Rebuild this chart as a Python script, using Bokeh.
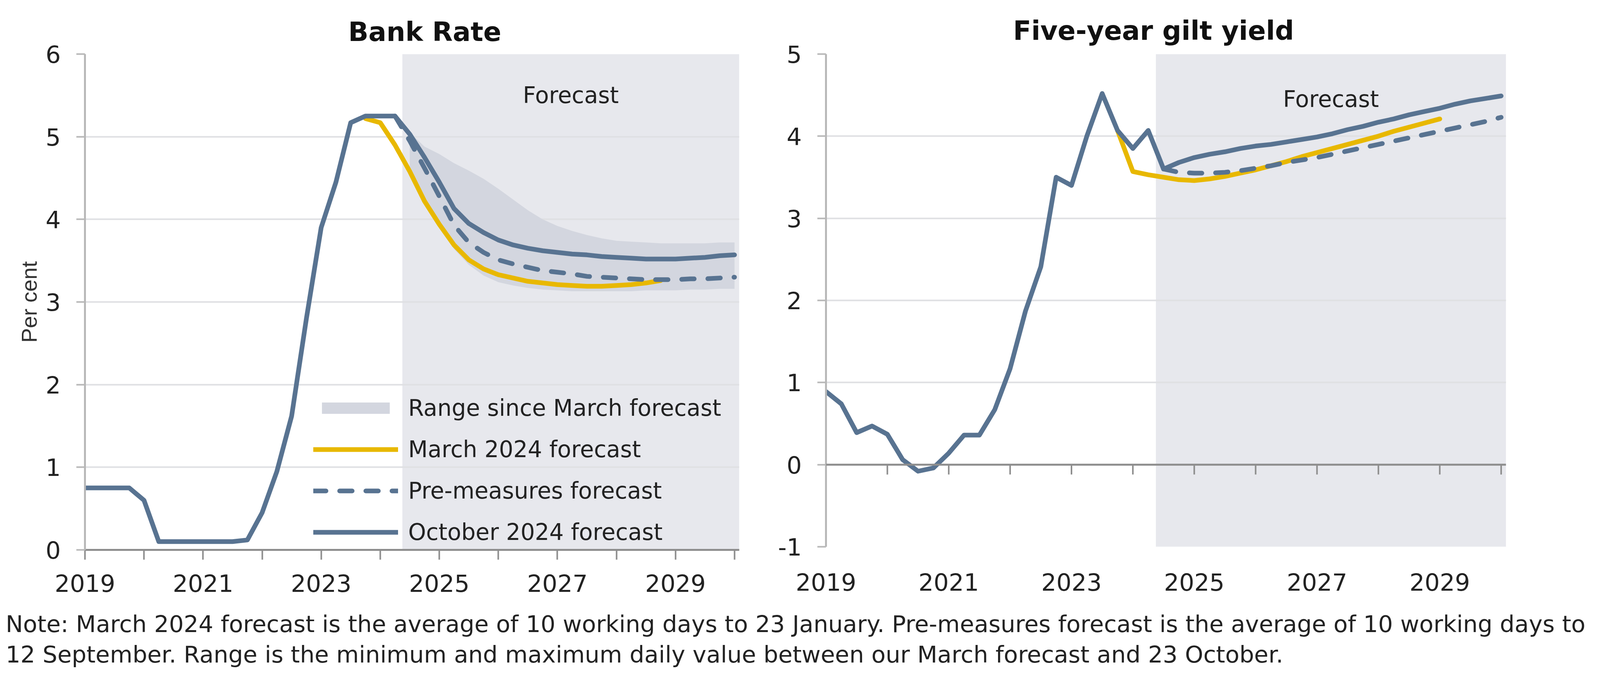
from bokeh.plotting import figure
from bokeh.models import (Range1d, FixedTicker, BoxAnnotation, Span, Legend,
                          LegendItem, Label)
from bokeh.layouts import row, column
from bokeh.embed import file_html
from bokeh.resources import INLINE

# ---------------- data ----------------
quarters = [f"{y}Q{q}" for y in range(2019, 2031) for q in range(1, 5)][:45]

# Bank Rate (per cent)
bank_oct = [0.75, 0.75, 0.75, 0.75,
            0.60, 0.10, 0.10, 0.10,
            0.10, 0.10, 0.10, 0.12,
            0.45, 0.95, 1.62, 2.80,
            3.90, 4.45, 5.17, 5.25,
            5.25, 5.25, 5.03, 4.75,
            4.45, 4.13, 3.95, 3.84,
            3.75, 3.69, 3.65, 3.62,
            3.60, 3.58, 3.57, 3.55,
            3.54, 3.53, 3.52, 3.52,
            3.52, 3.53, 3.54, 3.56,
            3.57]
bank_march_start = "2023Q4"
bank_march = [5.22, 5.17, 4.90, 4.58, 4.22, 3.94, 3.69, 3.51, 3.40, 3.33, 3.29,
              3.25, 3.23, 3.21, 3.20, 3.19, 3.19, 3.20, 3.21, 3.23, 3.26]
bank_pre_start = "2024Q2"
bank_pre = [5.25, 4.95, 4.62, 4.28, 3.93, 3.72, 3.60, 3.51, 3.46, 3.42, 3.38, 3.36,
            3.34, 3.31, 3.30, 3.29, 3.28, 3.27, 3.27, 3.27, 3.28, 3.28, 3.29, 3.30]
bank_range_start = "2024Q3"
bank_range_high = [5.05, 4.88, 4.79, 4.68, 4.59, 4.49, 4.37, 4.24, 4.11, 4.00, 3.92, 3.86,
                   3.81, 3.77, 3.74, 3.73, 3.72, 3.71, 3.71, 3.71, 3.71, 3.72, 3.72]
bank_range_low = [4.55, 4.20, 3.90, 3.64, 3.45, 3.32, 3.24, 3.20, 3.17, 3.15, 3.14, 3.13,
                  3.13, 3.13, 3.13, 3.13, 3.14, 3.14, 3.14, 3.15, 3.15, 3.16, 3.16]

# Five-year gilt yield (per cent)
gilt_oct = [0.89, 0.74, 0.39, 0.47,
            0.37, 0.06, -0.08, -0.04,
            0.14, 0.36, 0.36, 0.67,
            1.17, 1.87, 2.41, 3.50,
            3.40, 4.00, 4.52, 4.07,
            3.85, 4.07, 3.60, 3.68,
            3.74, 3.78, 3.81, 3.85,
            3.88, 3.90, 3.93, 3.96,
            3.99, 4.03, 4.08, 4.12,
            4.17, 4.21, 4.26, 4.30,
            4.34, 4.39, 4.43, 4.46,
            4.49]
gilt_march_start = "2023Q4"
gilt_march = [4.07, 3.57, 3.53, 3.50, 3.47, 3.46, 3.48, 3.51, 3.55, 3.59, 3.64,
              3.69, 3.75, 3.80, 3.85, 3.90, 3.95, 4.00, 4.06, 4.11, 4.16, 4.21]
gilt_pre_start = "2024Q3"
gilt_pre = [3.60, 3.56, 3.55, 3.55, 3.56, 3.58, 3.61, 3.64, 3.68, 3.71, 3.74, 3.78,
            3.82, 3.86, 3.90, 3.94, 3.98, 4.02, 4.06, 4.10, 4.14, 4.18, 4.23]

forecast_start = 2024.375
x_start, x_end = 2019.0, 2030.08
year_ticks = list(range(2019, 2031))
labelled_years = [2019, 2021, 2023, 2025, 2027, 2029]
bank_y_ticks = [0, 1, 2, 3, 4, 5, 6]
gilt_y_ticks = [-1, 0, 1, 2, 3, 4, 5]

legend_labels = ["Range since March forecast", "March 2024 forecast",
                 "Pre-measures forecast", "October 2024 forecast"]
titles = ["Bank Rate", "Five-year gilt yield"]
y_axis_title = "Per cent"
note_lines = [
    "Note: March 2024 forecast is the average of 10 working days to 23 January. "
    "Pre-measures forecast is the average of 10 working days to",
    "12 September. Range is the minimum and maximum daily value between our March "
    "forecast and 23 October.",
]

# ---------------- style ----------------
OCT = "#587391"
MARCH = "#E8B800"
BAND = "#D3D6DF"
SHADE = "#E7E8ED"
GRID = "#DFE0E3"
XAXIS = "#8E8E8E"
YAXIS = "#B8B8B8"
TEXT = "#222222"
FONT = "DejaVu Sans"
LW = 12
TICK_FONT = "61px"


def qx(q):
    return int(q[:4]) + (int(q[5]) - 1) / 4


def xs_from(start, n):
    i = quarters.index(start)
    return [qx(q) for q in quarters[i:i + n]]


def base_fig(title, y_lo, y_hi, yticks, fw, fh, mbl, mbr, mbt, mbb,
             title_offset, title_standoff):
    p = figure(frame_width=fw, frame_height=fh,
               x_range=Range1d(x_start, x_end), y_range=Range1d(y_lo, y_hi),
               min_border_left=mbl, min_border_right=mbr,
               min_border_top=mbt, min_border_bottom=mbb,
               output_backend="svg", toolbar_location=None, title=title)
    p.outline_line_color = None
    p.background_fill_color = "white"
    p.border_fill_color = "white"
    p.title.align = "left"
    p.title.offset = title_offset
    p.title.text_font = FONT
    p.title.text_font_size = "68px"
    p.title.text_font_style = "bold"
    p.title.text_color = "#111111"
    p.title.standoff = title_standoff

    p.add_layout(BoxAnnotation(left=forecast_start, fill_color=SHADE,
                               fill_alpha=1.0, line_color=None, level="image"))

    p.xgrid.visible = False
    p.ygrid.ticker = FixedTicker(ticks=yticks)
    p.ygrid.grid_line_color = GRID
    p.ygrid.grid_line_width = 4

    ya = p.yaxis[0]
    ya.ticker = FixedTicker(ticks=yticks)
    ya.major_label_overrides = {t: str(t) for t in yticks if t < 0}
    ya.axis_line_color = YAXIS
    ya.axis_line_width = 5
    ya.major_tick_line_color = YAXIS
    ya.major_tick_line_width = 4
    ya.major_tick_out = 22
    ya.major_tick_in = 0
    ya.minor_tick_line_color = None
    ya.major_label_text_font = FONT
    ya.major_label_text_font_size = TICK_FONT
    ya.major_label_text_color = TEXT
    ya.major_label_standoff = 40

    xa = p.xaxis[0]
    xa.ticker = FixedTicker(ticks=year_ticks)
    xa.major_label_overrides = {y: "" for y in year_ticks if y not in labelled_years}
    xa.minor_tick_line_color = None
    xa.major_label_text_font = FONT
    xa.major_label_text_font_size = TICK_FONT
    xa.major_label_text_color = TEXT
    return p


# ---------------- Bank Rate ----------------
p1 = base_fig(titles[0], 0, 6, bank_y_ticks, 1675, 1270, 217, 40, 131, 140, 674, 35)
xa1 = p1.xaxis[0]
xa1.axis_line_color = XAXIS
xa1.axis_line_width = 5
xa1.major_tick_line_color = XAXIS
xa1.major_tick_line_width = 4
xa1.major_tick_out = 25
xa1.major_tick_in = 0
xa1.major_label_standoff = 37

ya1 = p1.yaxis[0]
ya1.axis_label = y_axis_title
ya1.axis_label_text_font = "Liberation Sans"
ya1.axis_label_text_font_size = "56px"
ya1.axis_label_text_font_style = "normal"
ya1.axis_label_text_color = "#333333"
ya1.axis_label_standoff = 8

r_band = p1.varea(x=xs_from(bank_range_start, len(bank_range_low)),
                  y1=bank_range_low, y2=bank_range_high,
                  fill_color=BAND, fill_alpha=1.0)
r_march = p1.line(xs_from(bank_march_start, len(bank_march)), bank_march,
                  line_color=MARCH, line_width=LW, line_join="round", line_cap="round")
r_pre = p1.line(xs_from(bank_pre_start, len(bank_pre)), bank_pre,
                line_color=OCT, line_width=LW, line_dash="32 35",
                line_join="round", line_cap="round")
r_oct = p1.line(xs_from(quarters[0], len(bank_oct)), bank_oct,
                line_color=OCT, line_width=LW, line_join="round", line_cap="round")

p1.add_layout(Label(x=(forecast_start + x_end) / 2, y=5.5, text="Forecast",
                    text_font=FONT, text_font_size="58px", text_color=TEXT,
                    text_align="center", text_baseline="middle"))

legend = Legend(items=[LegendItem(label=legend_labels[0], renderers=[r_band]),
                       LegendItem(label=legend_labels[1], renderers=[r_march]),
                       LegendItem(label=legend_labels[2], renderers=[r_pre]),
                       LegendItem(label=legend_labels[3], renderers=[r_oct])],
                location=(585, 11))
legend.border_line_color = None
legend.background_fill_alpha = 0
legend.padding = 0
legend.margin = 0
legend.spacing = 38
legend.glyph_width = 217
legend.glyph_height = 36
legend.label_standoff = 26
legend.label_text_font = FONT
legend.label_text_font_size = "58px"
legend.label_text_color = TEXT
p1.add_layout(legend)

# ---------------- Five-year gilt yield ----------------
p2 = base_fig(titles[1], -1, 5, gilt_y_ticks, 1741, 1262, 182, 220, 138, 141, 479, 42)
xa2 = p2.xaxis[0]
xa2.axis_line_color = None
xa2.major_tick_line_color = None
xa2.major_tick_out = 0
xa2.major_tick_in = 0
xa2.major_label_standoff = 67

p2.add_layout(Span(location=0, dimension="width", line_color=XAXIS, line_width=5))
p2.segment(x0=year_ticks, y0=[0] * len(year_ticks), x1=year_ticks,
           y1=[-0.12] * len(year_ticks), line_color=XAXIS, line_width=4)

p2.line(xs_from(gilt_march_start, len(gilt_march)), gilt_march,
        line_color=MARCH, line_width=LW, line_join="round", line_cap="round")
p2.line(xs_from(gilt_pre_start, len(gilt_pre)), gilt_pre,
        line_color=OCT, line_width=LW, line_dash="32 35",
        line_join="round", line_cap="round")
p2.line(xs_from(quarters[0], len(gilt_oct)), gilt_oct,
        line_color=OCT, line_width=LW, line_join="round", line_cap="round")

p2.add_layout(Label(x=(forecast_start + x_end) / 2, y=4.45, text="Forecast",
                    text_font=FONT, text_font_size="58px", text_color=TEXT,
                    text_align="center", text_baseline="middle"))

# ---------------- Note ----------------
pn = figure(width=4080, height=175, x_range=Range1d(0, 1), y_range=Range1d(0, 1),
            x_axis_location=None, y_axis_location=None, min_border=0,
            output_backend="svg", toolbar_location=None)
pn.outline_line_color = None
pn.grid.visible = False
for txt, ypix in zip(note_lines, [118, 40]):
    pn.add_layout(Label(x=14, y=ypix, x_units="screen", y_units="screen", text=txt,
                        text_font=FONT, text_font_size="59.5px", text_color=TEXT,
                        text_baseline="alphabetic"))

layout = column(row(p1, p2), pn)
open("out.html", "w").write(file_html(layout, INLINE))
